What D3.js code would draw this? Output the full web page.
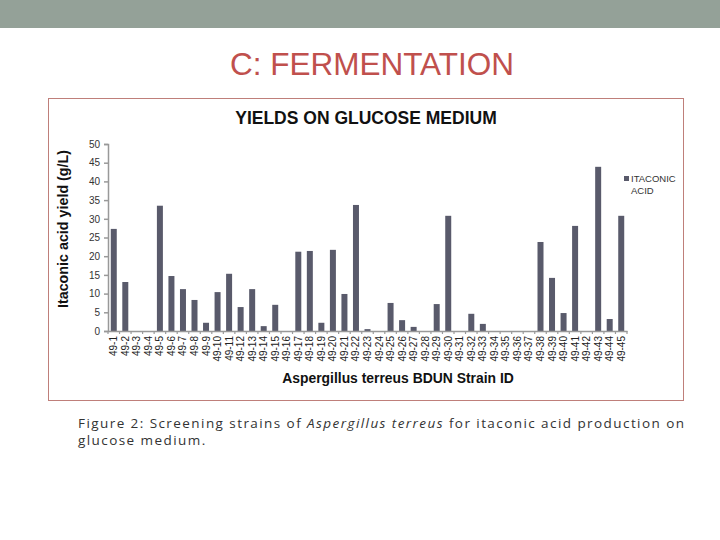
<!DOCTYPE html>
<html>
<head>
<meta charset="utf-8">
<script src="https://cdn.jsdelivr.net/npm/d3@7"></script>
<style>
  body { margin: 0; background: #fff; }
  svg { display: block; font-family: "Liberation Sans", Arial, sans-serif; }
</style>
</head>
<body>
<svg width="720" height="540"></svg>
<script>
// strain ids 49-1 .. 49-45
let strains = ["49-1","49-2","49-3","49-4","49-5","49-6","49-7","49-8","49-9","49-10",
    "49-11","49-12","49-13","49-14","49-15","49-16","49-17","49-18","49-19","49-20",
    "49-21","49-22","49-23","49-24","49-25","49-26","49-27","49-28","49-29","49-30",
    "49-31","49-32","49-33","49-34","49-35","49-36","49-37","49-38","49-39","49-40",
    "49-41","49-42","49-43","49-44","49-45"];

// itaconic acid yield (g/L)
let yields = [27.3, 13.1, 0, 0, 33.5, 14.7, 11.2, 8.3, 2.2, 10.4,
    15.3, 6.4, 11.2, 1.3, 7.0, 0, 21.2, 21.4, 2.2, 21.7,
    9.9, 33.7, 0.5, 0, 7.5, 2.9, 1.1, 0, 7.2, 30.8,
    0, 4.6, 1.9, 0, 0, 0, 0, 23.8, 14.2, 4.8,
    28.1, 0, 43.9, 3.2, 30.8];

let yTicks = [0, 5, 10, 15, 20, 25, 30, 35, 40, 45, 50];

let data = strains.map(function (s, i) {
    return {strain: s, value: yields[i]};
});

let svg = d3.select("svg");
let font = "Liberation Sans, Arial, sans-serif";

// slide header band
svg.append("rect")
    .attr("x", 0).attr("y", 0)
    .attr("width", 720).attr("height", 28)
    .attr("fill", "#94a198");

svg.append("text")
    .attr("x", 372).attr("y", 75)
    .attr("text-anchor", "middle")
    .attr("font-family", font)
    .attr("font-size", 31.5)
    .attr("fill", "#c0504d")
    .text("C: FERMENTATION");

// chart frame
svg.append("rect")
    .attr("x", 48.5).attr("y", 98.5)
    .attr("width", 635).attr("height", 302)
    .attr("fill", "none")
    .attr("stroke", "#bf7f7a")
    .attr("stroke-width", 1);

svg.append("text")
    .attr("x", 366).attr("y", 124)
    .attr("text-anchor", "middle")
    .attr("font-family", font)
    .attr("font-size", 17.5)
    .attr("font-weight", "bold")
    .attr("fill", "#111")
    .text("YIELDS ON GLUCOSE MEDIUM");

let margin = {left: 108, top: 144, right: 627, bottom: 331};

let x = d3.scaleBand()
    .domain(strains)
    .range([margin.left, margin.right])
    .paddingInner(0.48)
    .paddingOuter(0.24);

let y = d3.scaleLinear()
    .domain([0, 50])
    .range([margin.bottom, margin.top]);

// y axis
let yAxis = svg.append("g")
    .attr("transform", "translate(" + margin.left + ",0)")
    .call(d3.axisLeft(y).tickValues(yTicks).tickSize(4).tickPadding(4));
yAxis.select(".domain").attr("stroke", "#999").attr("stroke-width", 1.5);
yAxis.selectAll(".tick line").attr("stroke", "#999").attr("stroke-width", 1.5);
yAxis.selectAll(".tick text")
    .attr("font-family", font)
    .attr("font-size", 10).attr("fill", "#333");

// bars
svg.selectAll(".bar")
    .data(data)
    .enter().append("rect")
    .attr("class", "bar")
    .attr("x", function (d) { return x(d.strain); })
    .attr("y", function (d) { return y(d.value); })
    .attr("width", x.bandwidth())
    .attr("height", function (d) { return y(0) - y(d.value); })
    .attr("fill", "#595a6b");

// x axis
let xAxis = svg.append("g")
    .attr("transform", "translate(0," + margin.bottom + ")")
    .call(d3.axisBottom(x).tickSize(0).tickSizeOuter(0).tickPadding(0));
xAxis.select(".domain").attr("stroke", "#999").attr("stroke-width", 1.5);
xAxis.selectAll(".tick text")
    .attr("font-family", font)
    .attr("font-size", 10).attr("fill", "#222")
    .attr("transform", "rotate(-90)")
    .attr("text-anchor", "end")
    .attr("x", -5)
    .attr("y", 0)
    .attr("dy", "0.35em");

// small tick marks between categories
let step = x.step();
xAxis.selectAll(".sep")
    .data(d3.range(strains.length + 1))
    .enter().append("line")
    .attr("x1", function (i) { return margin.left + i * step; })
    .attr("x2", function (i) { return margin.left + i * step; })
    .attr("y1", 0).attr("y2", 3)
    .attr("stroke", "#999").attr("stroke-width", 1.2);

// axis titles
svg.append("text")
    .attr("transform", "translate(68,229) rotate(-90)")
    .attr("text-anchor", "middle")
    .attr("font-family", font)
    .attr("font-size", 14.3)
    .attr("font-weight", "bold")
    .attr("fill", "#111")
    .text("Itaconic acid yield (g/L)");

svg.append("text")
    .attr("x", 398).attr("y", 383)
    .attr("text-anchor", "middle")
    .attr("font-family", font)
    .attr("font-size", 13.9)
    .attr("font-weight", "bold")
    .attr("fill", "#111")
    .text("Aspergillus terreus BDUN Strain ID");

// legend
svg.append("rect")
    .attr("x", 624).attr("y", 176)
    .attr("width", 5).attr("height", 5)
    .attr("fill", "#595a6b");
svg.append("text")
    .attr("x", 631).attr("y", 182)
    .attr("font-family", font)
    .attr("font-size", 9.5).attr("fill", "#333")
    .text("ITACONIC");
svg.append("text")
    .attr("x", 631).attr("y", 194)
    .attr("font-family", font)
    .attr("font-size", 9.5).attr("fill", "#333")
    .text("ACID");

// caption: light, tracked-out text, first line spread to the frame edge
let capFont = "Open Sans, sans-serif";
let cap = svg.append("text")
    .attr("x", 78).attr("y", 428)
    .attr("font-family", capFont)
    .attr("font-size", 13.5)
    .attr("fill", "#333");
cap.append("tspan").text("Figure 2: Screening strains of ");
cap.append("tspan").attr("font-style", "italic").text("Aspergillus terreus");
cap.append("tspan").text(" for itaconic acid production on");
let capText = "Figure 2: Screening strains of Aspergillus terreus for itaconic acid production on";
let capLen = cap.node().getComputedTextLength();
let track = Math.max(0, (606 - capLen) / (capText.length - 1));
cap.attr("letter-spacing", track);

svg.append("text")
    .attr("x", 78).attr("y", 445)
    .attr("font-family", capFont)
    .attr("font-size", 13.5)
    .attr("fill", "#333")
    .attr("letter-spacing", track)
    .text("glucose medium.");
</script>
</body>
</html>
